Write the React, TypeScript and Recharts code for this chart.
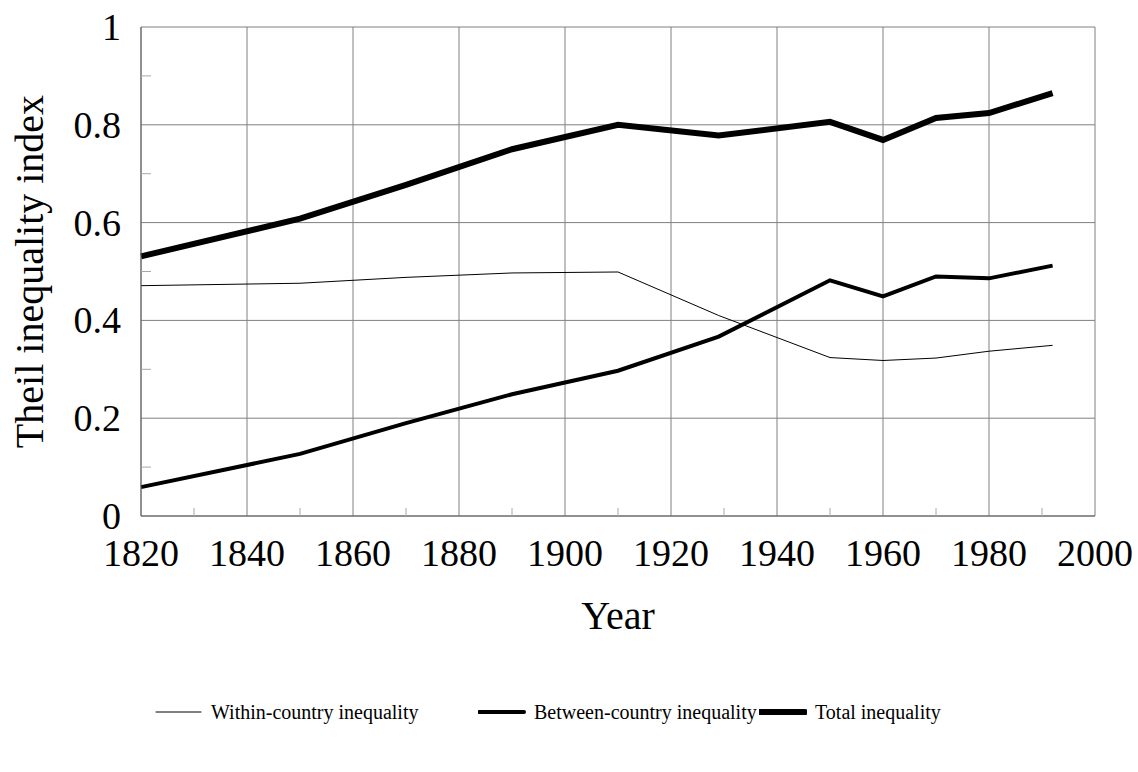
import React from 'react';
import {
  LineChart,
  Line,
  XAxis,
  YAxis,
  CartesianGrid,
  Legend,
} from 'recharts';

// Theil index, world income distribution
const years = [1820, 1850, 1870, 1890, 1910, 1929, 1950, 1960, 1970, 1980, 1992];
const withinCountry = [0.471, 0.476, 0.488, 0.497, 0.499, 0.41, 0.324, 0.318, 0.323, 0.337, 0.349];
const betweenCountry = [0.059, 0.127, 0.19, 0.249, 0.297, 0.367, 0.482, 0.449, 0.49, 0.486, 0.512];
const totalInequality = [0.531, 0.608, 0.677, 0.75, 0.8, 0.778, 0.806, 0.769, 0.814, 0.824, 0.865];

// major ticks get a label + grid line, the in-between ones only a short tick
const xMajorTicks = [1820, 1840, 1860, 1880, 1900, 1920, 1940, 1960, 1980, 2000];
const xAllTicks = [1820, 1830, 1840, 1850, 1860, 1870, 1880, 1890, 1900, 1910, 1920, 1930, 1940, 1950, 1960, 1970, 1980, 1990, 2000];
const yMajorTicks = [0, 0.2, 0.4, 0.6, 0.8, 1];
const yAllTicks = [0, 0.1, 0.2, 0.3, 0.4, 0.5, 0.6, 0.7, 0.8, 0.9, 1];
const seriesOrder = ['within', 'between', 'total'];

const data = years.map((year, i) => ({
  year,
  within: withinCountry[i],
  between: betweenCountry[i],
  total: totalInequality[i],
}));

const FONT = '"Liberation Serif", "Times New Roman", Times, serif';
const GRID = '#808080';
const MINOR = '#a8a8a8';
const legendLefts = [155, 478, 759];
const legendWidths: Record<string, number> = { within: 1, between: 4, total: 6 };

const LegendBox = ({ payload }: any) => {
  const items = [...(payload || [])].sort(
    (a: any, b: any) => seriesOrder.indexOf(a.dataKey) - seriesOrder.indexOf(b.dataKey)
  );
  return (
    <div style={{ position: 'relative', width: 1138, height: 34, fontFamily: FONT, fontSize: 20 }}>
      {items.map((entry: any, i: number) => {
        const sw = legendWidths[entry.dataKey] ?? 1;
        return (
          <div
            key={entry.value}
            style={{
              position: 'absolute',
              left: legendLefts[i],
              top: 0,
              height: 34,
              display: 'flex',
              alignItems: 'center',
              whiteSpace: 'nowrap',
            }}
          >
            <svg width={48} height={10} style={{ marginRight: 8 }}>
              <line x1={1} y1={5} x2={46} y2={5} stroke="#000" strokeWidth={sw} strokeLinecap="round" />
            </svg>
            <span>{entry.value}</span>
          </div>
        );
      })}
    </div>
  );
};

const XTick = ({ x, y, payload }: any) => {
  if (!xMajorTicks.includes(payload.value)) {
    return <line x1={x} y1={y} x2={x} y2={y - 8} stroke={MINOR} strokeWidth={1} />;
  }
  return (
    <text x={x} y={y + 50} textAnchor="middle" style={{ fontFamily: FONT, fontSize: 38 }} fill="#000">
      {payload.value}
    </text>
  );
};

const YTick = ({ x, y, payload }: any) => {
  const v = Math.round(payload.value * 10) / 10;
  if (!yMajorTicks.includes(v)) {
    return <line x1={x} y1={y} x2={x + 10} y2={y} stroke={MINOR} strokeWidth={1} />;
  }
  return (
    <text x={x - 20} y={y} dy="0.34em" textAnchor="end" style={{ fontFamily: FONT, fontSize: 38 }} fill="#000">
      {String(v)}
    </text>
  );
};

const YLabel = ({ viewBox }: any) => {
  const cy = viewBox.y + viewBox.height / 2;
  return (
    <text
      x={43}
      y={cy}
      transform={`rotate(-90, 43, ${cy})`}
      textAnchor="middle"
      style={{ fontFamily: FONT, fontSize: 40 }}
      fill="#000"
    >
      Theil inequality index
    </text>
  );
};

const XLabel = ({ viewBox }: any) => (
  <text
    x={viewBox.x + viewBox.width / 2}
    y={viewBox.y + 113}
    textAnchor="middle"
    style={{ fontFamily: FONT, fontSize: 40 }}
    fill="#000"
  >
    Year
  </text>
);

const App = () => {
  return (
    <div style={{ position: 'absolute', left: 0, top: 0, background: '#fff' }}>
      <LineChart
        width={1138}
        height={772}
        data={data}
        margin={{ top: 27, right: 43, bottom: 255, left: 0 }}
      >
        <CartesianGrid stroke={GRID} strokeWidth={1} horizontalValues={yMajorTicks} verticalValues={xMajorTicks} />
        <XAxis
          dataKey="year"
          type="number"
          domain={[1820, 2000]}
          ticks={xAllTicks}
          interval={0}
          tickLine={false}
          tickSize={0}
          tickMargin={0}
          axisLine={{ stroke: '#606060' }}
          tick={<XTick />}
          height={1}
          label={<XLabel />}
        />
        <YAxis
          type="number"
          domain={[0, 1]}
          ticks={yAllTicks}
          interval={0}
          width={141}
          tickLine={false}
          tickSize={0}
          tickMargin={0}
          axisLine={{ stroke: '#606060' }}
          tick={<YTick />}
          label={<YLabel />}
        />
        <Legend
          layout="horizontal"
          verticalAlign="middle"
          align="center"
          wrapperStyle={{ left: 0, top: 695, width: 1138 }}
          content={(props: any) => <LegendBox payload={props.payload} />}
        />
        <Line
          type="linear"
          dataKey="within"
          name="Within-country inequality"
          stroke="#000"
          strokeWidth={1}
          dot={false}
          activeDot={false}
          isAnimationActive={false}
        />
        <Line
          type="linear"
          dataKey="between"
          name="Between-country inequality"
          stroke="#000"
          strokeWidth={4}
          dot={false}
          activeDot={false}
          isAnimationActive={false}
        />
        <Line
          type="linear"
          dataKey="total"
          name="Total inequality"
          stroke="#000"
          strokeWidth={6}
          dot={false}
          activeDot={false}
          isAnimationActive={false}
        />
      </LineChart>
    </div>
  );
};

export default App;
